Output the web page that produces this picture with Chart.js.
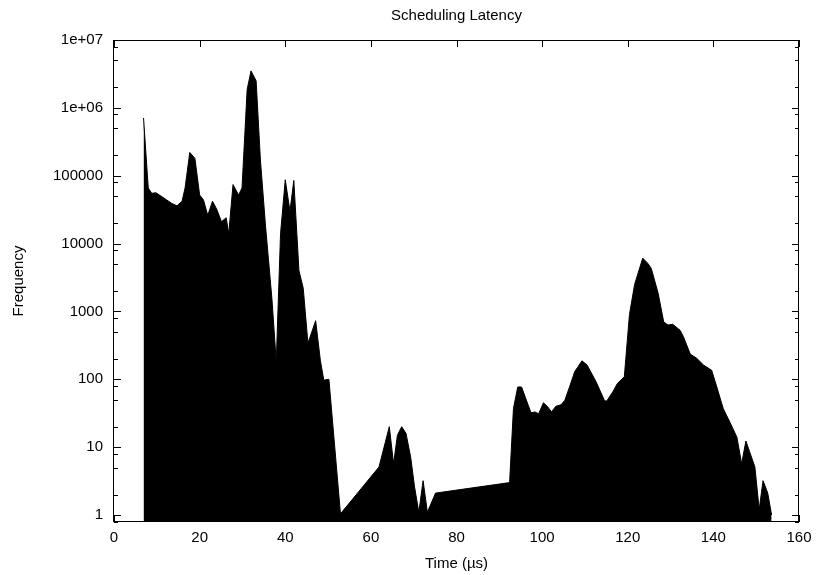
<!DOCTYPE html>
<html>
<head>
<meta charset="utf-8">
<script src="https://cdn.jsdelivr.net/npm/chart.js@4/dist/chart.umd.min.js"></script>
<style>
  html, body { margin: 0; padding: 0; background: #fff; }
  #wrap { width: 819px; height: 575px; }
</style>
</head>
<body>
<div id="wrap"><canvas id="latency"></canvas></div>
<script>
// Latency histogram
const timeUs = [
  6.9, 8.0, 8.8, 9.8, 11.2, 12.3, 13.5, 14.7, 15.9, 16.6,
  17.7, 18.9, 20.0, 20.9, 21.9, 23.0, 24.0, 25.1, 26.2, 26.8,
  27.8, 29.1, 29.9, 31.1, 32.0, 33.2, 34.2, 35.4, 36.9, 37.9,
  38.9, 40.0, 41.1, 42.0, 43.2, 44.2, 45.3, 47.1, 48.2, 49.0,
  50.2, 52.9, 61.9, 64.3, 65.3, 66.2, 67.2, 68.2, 69.3, 70.2,
  71.2, 72.2, 73.2, 75.1, 92.4, 93.3, 94.3, 95.2, 97.4, 98.3,
  99.2, 100.3, 101.2, 102.2, 103.2, 104.4, 105.3, 106.4, 107.6, 109.3,
  110.5, 112.6, 114.6, 115.1, 116.5, 117.6, 119.2, 120.4, 121.6, 123.5,
  124.7, 125.5, 127.1, 128.4, 129.4, 130.5, 132.2, 133.0, 134.6, 136.1,
  137.7, 139.6, 140.8, 142.3, 143.9, 145.5, 146.6, 147.6, 149.7, 150.7,
  151.6, 152.7, 153.6
];
const frequency = [
  710000, 66000, 55000, 56000, 49000, 44000, 39000, 36000, 42000, 66000,
  220000, 180000, 52000, 44000, 26000, 42000, 32000, 21000, 24000, 14000,
  74000, 52000, 66000, 1860000, 3500000, 2500000, 170000, 18000, 1500, 180,
  14000, 87000, 30000, 85000, 4000, 2200, 340, 730, 190, 97,
  100, 1.04, 5.1, 20, 5.7, 15, 20, 16, 7.1, 2.6,
  1.1, 3.2, 1.1, 2.1, 3.0, 37, 77, 77, 32, 33,
  31, 45, 40, 33, 40, 42, 49, 77, 129, 187,
  162, 92, 48, 48, 65, 87, 109, 900, 2500, 6100,
  5100, 4300, 1850, 700, 630, 645, 530, 425, 235, 204,
  162, 136, 77, 37, 23, 14, 5.7, 12.3, 5.1, 1.2,
  3.2, 2.1, 1.0
];
const xTicks = [0, 20, 40, 60, 80, 100, 120, 140, 160];
const yTicks = [1, 10, 100, 1000, 10000, 100000, 1000000, 10000000];
const yMinor = [2, 5, 8];

Chart.defaults.font.family = '"Liberation Sans", Arial, sans-serif';
Chart.defaults.font.size = 15;
Chart.defaults.color = '#000';

function yLabel(v) {
  if (v >= 1000000) return v.toExponential().replace(/e\+(\d)$/, 'e+0$1');
  return String(v);
}

// gnuplot-style frame with inward ticks and the centered title
const framePlugin = {
  id: 'frame',
  afterDatasetsDraw(chart) {
    const { ctx, chartArea: a, scales: { x, y } } = chart;
    ctx.save();
    ctx.strokeStyle = '#000';
    ctx.lineWidth = 1;
    ctx.beginPath();
    yTicks.forEach(v => {
      const py = Math.round(y.getPixelForValue(v)) + 0.5;
      ctx.moveTo(a.left, py); ctx.lineTo(a.left + 7, py);
      ctx.moveTo(a.right, py); ctx.lineTo(a.right - 7, py);
      if (v < 10000000) {
        yMinor.forEach(m => {
          const pm = Math.round(y.getPixelForValue(v * m)) + 0.5;
          ctx.moveTo(a.left, pm); ctx.lineTo(a.left + 4, pm);
          ctx.moveTo(a.right, pm); ctx.lineTo(a.right - 4, pm);
        });
      }
    });
    const m08 = Math.round(y.getPixelForValue(0.8)) + 0.5;
    ctx.moveTo(a.left, m08); ctx.lineTo(a.left + 4, m08);
    ctx.moveTo(a.right, m08); ctx.lineTo(a.right - 4, m08);
    xTicks.forEach(v => {
      const px = Math.round(x.getPixelForValue(v)) + 0.5;
      ctx.moveTo(px, a.bottom); ctx.lineTo(px, a.bottom - 7);
      ctx.moveTo(px, a.top); ctx.lineTo(px, a.top + 7);
    });
    ctx.stroke();
    ctx.strokeRect(a.left - 0.5, a.top + 0.5, a.right - a.left, a.bottom - a.top - 1);

    ctx.fillStyle = '#000';
    ctx.font = '15px "Liberation Sans", Arial, sans-serif';
    ctx.textAlign = 'center';
    ctx.textBaseline = 'alphabetic';
    ctx.fillText('Scheduling Latency', (a.left + a.right) / 2, 20);
    ctx.restore();
  }
};

new Chart(document.getElementById('latency'), {
  type: 'line',
  data: {
    datasets: [{
      label: 'Frequency',
      data: timeUs.map((t, i) => ({ x: t, y: frequency[i] })),
      borderColor: '#000',
      backgroundColor: '#000',
      borderWidth: 1,
      pointRadius: 0,
      tension: 0,
      fill: 'start'
    }]
  },
  options: {
    responsive: true,
    maintainAspectRatio: false,
    animation: false,
    layout: { padding: { top: 40, right: 20, left: 0, bottom: 0 } },
    plugins: {
      legend: { display: false },
      tooltip: { enabled: false }
    },
    scales: {
      x: {
        type: 'linear',
        min: 0,
        max: 160,
        afterBuildTicks: s => { s.ticks = xTicks.map(v => ({ value: v })); },
        afterFit: s => { s.height = 53; },
        ticks: { padding: 7, maxRotation: 0 },
        grid: { display: false, drawTicks: false },
        border: { display: false },
        title: { display: true, text: 'Time (µs)', padding: { top: 0, bottom: 2 } }
      },
      y: {
        type: 'logarithmic',
        min: 0.788,
        max: 10000000,
        afterBuildTicks: s => { s.ticks = yTicks.map(v => ({ value: v })); },
        afterFit: s => { s.width = 114; },
        ticks: { padding: 11, callback: v => yLabel(v) },
        grid: { display: false, drawTicks: false },
        border: { display: false },
        title: { display: true, text: 'Frequency', padding: { top: 10, bottom: 0 } }
      }
    }
  },
  plugins: [framePlugin]
});
</script>
</body>
</html>
